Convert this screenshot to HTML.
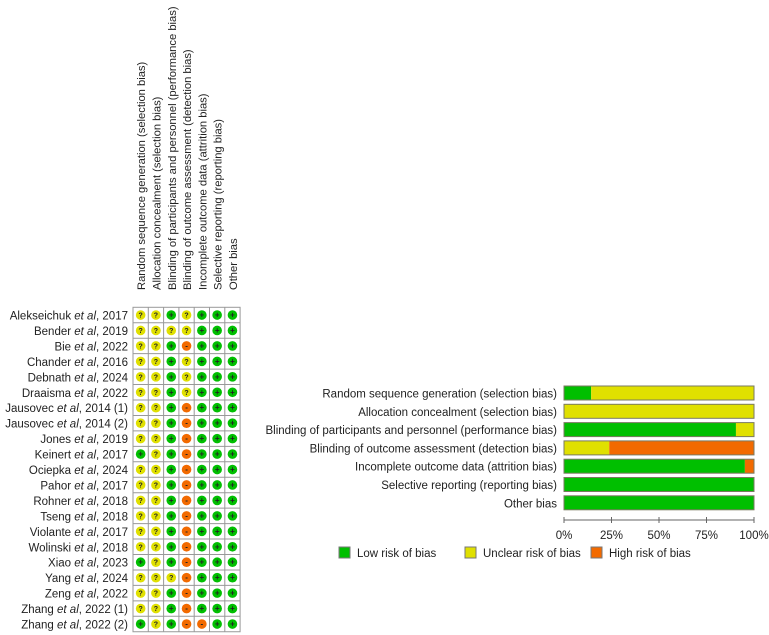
<!DOCTYPE html>
<html><head><meta charset="utf-8"><style>
html,body{margin:0;padding:0;background:#fff;}
svg{display:block;font-family:"Liberation Sans",Arial,sans-serif;}
</style></head><body>
<svg id="chart" width="769" height="635" viewBox="0 0 769 635" xmlns="http://www.w3.org/2000/svg">
<g id="hdr"></g>
<g id="names"></g>
<g id="grid"></g>
<g id="bars"></g>
<g id="axis"></g>
<g id="legend"></g>
</svg>
<script>
const domains = ["Random sequence generation (selection bias)","Allocation concealment (selection bias)","Blinding of participants and personnel (performance bias)","Blinding of outcome assessment (detection bias)","Incomplete outcome data (attrition bias)","Selective reporting (reporting bias)","Other bias"];
const studyAuthors = ["Alekseichuk","Bender","Bie","Chander","Debnath","Draaisma","Jausovec","Jausovec","Jones","Keinert","Ociepka","Pahor","Rohner","Tseng","Violante","Wolinski","Xiao","Yang","Zeng","Zhang","Zhang"];
const studyYears = ["2017","2019","2022","2016","2024","2022","2014 (1)","2014 (2)","2019","2017","2024","2017","2018","2018","2017","2018","2023","2024","2022","2022 (1)","2022 (2)"];
const judgements = ["YYGYGGG","YYYYGGG","YYGRGGG","YYGYGGG","YYGYGGG","YYGYGGG","YYGRGGG","YYGRGGG","YYGRGGG","GYGRGGG","YYGRGGG","YYGRGGG","YYGRGGG","YYGRGGG","YYGRGGG","YYGRGGG","GYGRGGG","YYYRGGG","YYGRGGG","YYGRGGG","GYGRRGG"];
const lowPct = [14.3,0,90.5,0,95.2,100,100];
const unclearPct = [85.7,100,9.5,23.8,0,0,0];
const highPct = [0,0,0,76.2,4.8,0,0];
const tickValues = [0,25,50,75,100];
const tickLabels = ["0%","25%","50%","75%","100%"];
const legendLabels = ["Low risk of bias","Unclear risk of bias","High risk of bias"];

const NS="http://www.w3.org/2000/svg";
function mk(tag,attrs,parent){const e=document.createElementNS(NS,tag);for(const k in attrs)e.setAttribute(k,attrs[k]);parent.appendChild(e);return e;}
const COL={G:"#00bf00",Y:"#e0e000",R:"#f26a00"};
const SYM={G:"+",Y:"?",R:"-"};
const gx0=133, cw=15.3, gy0=307.3, rh=15.45;
const colX=i=>gx0+cw*(i+0.5);
const rowY=i=>gy0+rh*(i+0.5);

const hdr=document.getElementById('hdr');
domains.forEach((d,i)=>{
  const t=mk('text',{transform:`translate(${colX(i)+4.5},290) rotate(-90)`,'font-size':'11.2',fill:'#222'},hdr);
  t.textContent=d;
  
  
});
const names=document.getElementById('names');
studyAuthors.forEach((a,i)=>{
  const t=mk('text',{x:128,y:rowY(i)+4.5,'text-anchor':'end','font-size':'11.5',fill:'#222'},names);
  
  
  t.appendChild(document.createTextNode(a+" "));
  const it=mk('tspan',{'font-style':'italic'},t); it.textContent="et al";
  t.appendChild(document.createTextNode(", "+studyYears[i]));
});
const grid=document.getElementById('grid');
const nR=studyAuthors.length;
mk('rect',{x:gx0,y:gy0,width:cw*7,height:rh*nR,fill:'#fff',stroke:'#999','stroke-width':1},grid);
for(let c=1;c<7;c++)mk('line',{x1:gx0+cw*c,x2:gx0+cw*c,y1:gy0,y2:gy0+rh*nR,stroke:'#999'},grid);
for(let r=1;r<nR;r++)mk('line',{x1:gx0,x2:gx0+cw*7,y1:gy0+rh*r,y2:gy0+rh*r,stroke:'#999'},grid);
judgements.forEach((row,r)=>{
  row.split('').forEach((j,c)=>{
    const g=mk('g',{},grid);
    
    
    mk('circle',{cx:colX(c),cy:rowY(r),r:4.8,fill:COL[j]},g);
    const t=mk('text',{x:colX(c),y:rowY(r)+2.5,'text-anchor':'middle','font-size':j==='Y'?'7':'8','font-weight':'bold',fill:'#222'},g);
    t.textContent=SYM[j];
  });
});
const bars=document.getElementById('bars');
const bx0=564, bw=190, by0=386, bs=18.3, bh=14;
const xs=v=>bx0+bw*v/100;
domains.forEach((d,i)=>{
  const y=by0+bs*i;
  const lab=mk('text',{x:557,y:y+bh/2+4.5,'text-anchor':'end','font-size':'11.5',fill:'#222'},bars);
  lab.textContent=d;
  
  
  let acc=0;
  [[lowPct[i],COL.G],[unclearPct[i],COL.Y],[highPct[i],COL.R]].forEach(([v,c])=>{
    if(v>0){const r=mk('rect',{x:xs(acc),y:y,width:xs(acc+v)-xs(acc),height:bh,fill:c},bars);
      
      }
    acc+=v;
  });
  mk('rect',{x:bx0,y:y,width:bw,height:bh,fill:'none',stroke:'#7a7a60','stroke-width':1},bars);
});
const axis=document.getElementById('axis');
mk('line',{x1:xs(0),x2:xs(100),y1:520,y2:520,stroke:'#666'},axis);
tickValues.forEach((v,i)=>{
  mk('line',{x1:xs(v),x2:xs(v),y1:517,y2:523,stroke:'#666'},axis);
  const t=mk('text',{x:xs(v),y:539,'text-anchor':'middle','font-size':'11.5',fill:'#222'},axis);
  t.textContent=tickLabels[i];
  
  
});
const legend=document.getElementById('legend');
const lx=[339,465,591];
[COL.G,COL.Y,COL.R].forEach((c,i)=>{
  const g=mk('g',{},legend);
  
  
  mk('rect',{x:lx[i],y:547,width:11,height:11,fill:c,stroke:'#777'},g);
  const t=mk('text',{x:lx[i]+18,y:557,'font-size':'11.5',fill:'#222'},g);
  t.textContent=legendLabels[i];
});
</script>
</body></html>
